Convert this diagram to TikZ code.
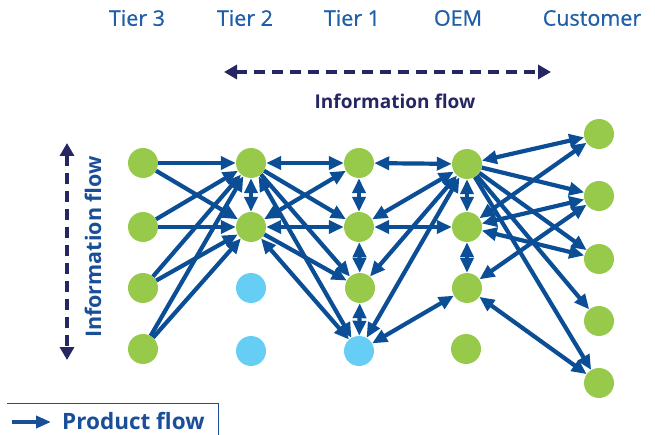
\documentclass[tikz,border=0pt]{standalone}
\usepackage{fontspec}
\setmainfont{Open Sans}
\newfontfamily\tierfont[FakeBold=0.7]{Open Sans}
\usetikzlibrary{arrows.meta}
\definecolor{nodegreen}{HTML}{97C94B}
\definecolor{nodeblue}{HTML}{66CDF4}
\definecolor{arrowblue}{HTML}{0B4E96}
\definecolor{tiertext}{HTML}{1F5FA8}
\definecolor{navy}{HTML}{262663}
\definecolor{labelblue}{HTML}{1A4F98}
\tikzset{
  gnode/.style={circle,fill=nodegreen,minimum size=30pt,inner sep=0pt},
  bnode/.style={circle,fill=nodeblue,minimum size=30pt,inner sep=0pt},
  one/.style={draw=arrowblue,line width=4.2pt,-{Triangle[length=15pt,width=13pt]}},
  two/.style={draw=arrowblue,line width=4.2pt,{Triangle[length=15pt,width=13pt]}-{Triangle[length=15pt,width=13pt]}},
  tier/.style={text=tiertext,font=\tierfont\fontsize{21.5}{24}\selectfont},
  infoarrow/.style={draw=navy,line width=3.6pt,dash pattern=on 11pt off 7pt,{Triangle[length=13pt,width=14pt]}-{Triangle[length=13pt,width=14pt]}}
}
\begin{document}
\begin{tikzpicture}[x=1pt,y=-1pt]
\useasboundingbox (0,0) rectangle (655,435);
% tier labels
\node[tier] (t3) at (137,18) {Tier 3};
\node[tier] (t2) at (245,18) {Tier 2};
\node[tier] (t1) at (352,18) {Tier 1};
\node[tier] (toem) at (458,18) {OEM};
\node[tier] (tcu) at (592,18) {Customer};
% information flow horizontal
\coordinate (hl) at (224,72);
\coordinate (hr) at (551,72);
\draw[infoarrow] (hl) -- (hr);
\node[text=navy,font=\bfseries\fontsize{19}{22}\selectfont] (hinfo) at (395,101) {Information flow};
% information flow vertical
\coordinate (vt) at (67,143);
\coordinate (vb) at (67,360);
\draw[infoarrow] (vt) -- (vb);
\node[text=labelblue,rotate=90,font=\bfseries\fontsize{21.5}{24}\selectfont] (vinfo) at (93,247) {Information flow};
% product flow legend
\coordinate (lb1) at (7,403);
\coordinate (lb2) at (218,403);
\coordinate (lb3) at (218,435);
\draw[draw=labelblue,line width=0.8pt] (lb1) -- (lb2) -- (lb3);
\coordinate (pa1) at (12,422);
\coordinate (pa2) at (51,422);
\draw[draw=labelblue,line width=3.6pt,-{Triangle[length=15pt,width=12pt]}] (pa1) -- (pa2);
\node[text=labelblue,font=\bfseries\fontsize{22.5}{25}\selectfont,anchor=west,inner sep=0pt] (pflow) at (62,421) {Product flow};
% nodes
\node[gnode] (a1) at (143,163) {};
\node[gnode] (a2) at (143,227) {};
\node[gnode] (a3) at (143,288) {};
\node[gnode] (a4) at (143,349) {};
\node[gnode] (b1) at (251,163) {};
\node[gnode] (b2) at (251,227) {};
\node[bnode] (b3) at (251,288) {};
\node[bnode] (b4) at (251,351) {};
\node[gnode] (c1) at (359,163) {};
\node[gnode] (c2) at (359,227) {};
\node[gnode] (c3) at (360,288) {};
\node[bnode] (c4) at (359,351) {};
\node[gnode] (d1) at (467,164) {};
\node[gnode] (d2) at (467,227) {};
\node[gnode] (d3) at (467,288) {};
\node[gnode] (d4) at (466,349) {};
\node[gnode] (e1) at (599,134) {};
\node[gnode] (e2) at (599,196) {};
\node[gnode] (e3) at (599,259) {};
\node[gnode] (e4) at (599,321) {};
\node[gnode] (e5) at (599,383) {};
% tier 3 -> tier 2
\foreach \s in {a1,a2,a3,a4}{
  \draw[one] (\s) -- (b1);
  \draw[one] (\s) -- (b2);
}
% tier 2
\draw[two] (b1) -- (b2);
\draw[two] (b1) -- (c1);
\draw[one] (b1) -- (c2);
\draw[one] (b1) -- (c3);
\draw[two] (b1) -- (c4);
\draw[two] (b2) -- (c1);
\draw[two] (b2) -- (c2);
\draw[one] (b2) -- (c3);
\draw[two] (b2) -- (c4);
% tier 1
\draw[two] (c1) -- (c2);
\draw[two] (c2) -- (c3);
\draw[two] (c3) -- (c4);
\draw[two] (c1) -- (d1);
\draw[two] (c2) -- (d1);
\draw[two] (c2) -- (d2);
\draw[two] (c3) -- (d1);
\draw[two] (c4) -- (d1);
\draw[two] (c4) -- (d3);
% OEM
\draw[two] (d1) -- (d2);
\draw[two] (d2) -- (d3);
\draw[two] (d1) -- (e1);
\draw[two] (d2) -- (e1);
\draw[one] (d1) -- (e2);
\draw[two] (d2) -- (e2);
\draw[one] (d1) -- (e3);
\draw[two] (d2) -- (e3);
\draw[two] (d3) -- (e2);
\draw[one] (d1) -- (e4);
\draw[one] (d1) -- (e5);
\draw[two] (d3) -- (e5);
\end{tikzpicture}
\end{document}
